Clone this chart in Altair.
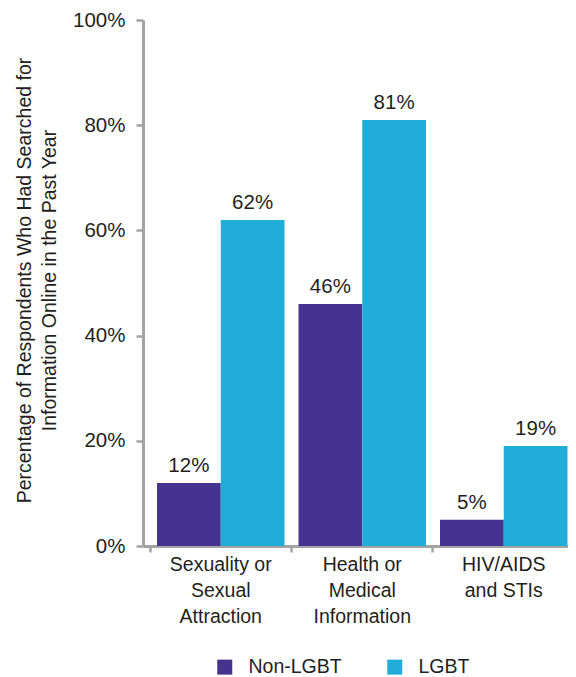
import altair as alt
import pandas as pd

categories = ["Sexuality or|Sexual|Attraction", "Health or|Medical|Information", "HIV/AIDS|and STIs"]
groups = ["Non-LGBT", "LGBT"]
non_lgbt = [12, 46, 5]
lgbt = [62, 81, 19]
y_ticks = [0, 20, 40, 60, 80, 100]
colors = ["#46338f", "#20aed8"]

rows = []
for c, a, b in zip(categories, non_lgbt, lgbt):
    rows.append({"cat": c, "grp": "Non-LGBT", "val": a})
    rows.append({"cat": c, "grp": "LGBT", "val": b})
df = pd.DataFrame(rows)

FONT = "Liberation Sans"
TXT = "#231f20"
GREY = "#a3a3a3"

x = alt.X("cat:N", sort=categories, title=None,
          scale=alt.Scale(range=[0, 438.5], paddingInner=0, paddingOuter=0.0495, align=0.5),
          axis=alt.Axis(labelExpr="split(datum.label, '|')", labelAngle=0,
                        labelFontSize=19.5, labelColor=TXT, labelFont=FONT,
                        labelLineHeight=26, labelPadding=3, labelBaseline="top",
                        tickSize=6, tickColor=GREY, tickWidth=2.5, bandPosition=0,
                        domainColor=GREY, domainWidth=3))
xo = alt.XOffset("grp:N", sort=groups,
                 scale=alt.Scale(paddingInner=0, paddingOuter=0.11))
y = alt.Y("val:Q", title=["Percentage of Respondents Who Had Searched for",
                          "Information Online in the Past Year"],
          scale=alt.Scale(domain=[0, 100], nice=False),
          axis=alt.Axis(values=y_ticks, labelExpr="datum.value + '%'",
                        labelFontSize=20.5, labelColor=TXT, labelFont=FONT,
                        labelPadding=11, tickSize=7, tickColor=GREY, tickWidth=2.5,
                        domainColor=GREY, domainWidth=3, grid=False,
                        titleFont=FONT, titleFontSize=19.5, titleFontWeight="normal",
                        titleColor=TXT, titleLineHeight=25, titleX=-109, titleY=260))

bars = alt.Chart(df).mark_bar().encode(
    x=x, xOffset=xo, y=y,
    color=alt.Color("grp:N", sort=groups, title=None,
                    scale=alt.Scale(domain=groups, range=colors),
                    legend=alt.Legend(orient="none", legendX=72, legendY=637,
                                      direction="horizontal", symbolType="square",
                                      symbolSize=225, symbolStrokeWidth=0,
                                      labelFontSize=19.5, labelFont=FONT, labelColor=TXT,
                                      labelOffset=14, columnPadding=43)),
)

labels = alt.Chart(df).mark_text(
    font=FONT, fontSize=20.5, color=TXT, baseline="alphabetic", dy=-11
).encode(
    x=alt.X("cat:N", sort=categories),
    xOffset=alt.XOffset("grp:N", sort=groups),
    y="val:Q",
    text=alt.Text("label:N"),
).transform_calculate(label="datum.val + '%'")

chart = alt.layer(bars, labels).properties(
    width=425, height=526,
    autosize=alt.AutoSizeParams(type="none"),
    padding={"left": 135, "top": 12, "right": 0, "bottom": 131},
).configure_view(stroke=None)

chart.save("out.html", embed_options={"renderer": "svg", "actions": False})
